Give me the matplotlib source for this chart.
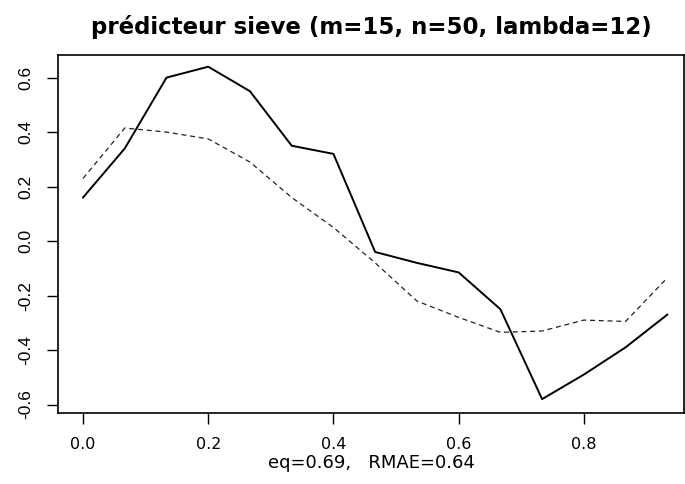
import numpy as np
import matplotlib
matplotlib.use("Agg")
import matplotlib.pyplot as plt

M = 15
x = np.arange(M) / M

# solid: observed, dashed: sieve predictor
observed = [0.16, 0.34, 0.60, 0.64, 0.55, 0.35, 0.32, -0.04, -0.08, -0.115,
            -0.25, -0.58, -0.49, -0.39, -0.27]
predicted = [0.23, 0.415, 0.40, 0.375, 0.29, 0.16, 0.05, -0.08, -0.22, -0.28,
             -0.335, -0.33, -0.29, -0.295, -0.135]

xticks = [0.0, 0.2, 0.4, 0.6, 0.8]
yticks = [-0.6, -0.4, -0.2, 0.0, 0.2, 0.4, 0.6]

plt.rcParams['font.family'] = ['DejaVu Sans']

fig = plt.figure(figsize=(6.85, 4.84), dpi=100)
ax = fig.add_axes([58/685, 1-413/484, 626/685, 358/484])

ax.plot(x, observed, color="black", lw=1.4)
ax.plot(x, predicted, color="#222222", lw=0.9, ls=(0, (4, 3)))

ax.set_xlim(-0.04, 0.96)
ax.set_ylim(-0.631, 0.683)
ax.set_xticks(xticks)
ax.set_xticklabels(["%.1f" % v for v in xticks], fontsize=11.5)
ax.set_yticks(yticks)
ax.set_yticklabels(["%.1f" % v for v in yticks], rotation=90, va="center",
                   fontsize=12.5,
                   family=["Liberation Sans Narrow", "Liberation Sans"])
ax.tick_params(direction="out", length=8, width=1)
ax.tick_params(axis="x", pad=9)
ax.tick_params(axis="y", pad=10)
for s in ax.spines.values():
    s.set_linewidth(1.2)

fig.text(371/685, 1-463/484, "eq=0.69,   RMAE=0.64",
         ha="center", va="center", fontsize=13)
fig.text(371/685, 1-27/484, "prédicteur sieve (m=15, n=50, lambda=12)",
         ha="center", va="center", fontsize=16.5, fontweight="bold")

fig.savefig("out.png", dpi=100)
